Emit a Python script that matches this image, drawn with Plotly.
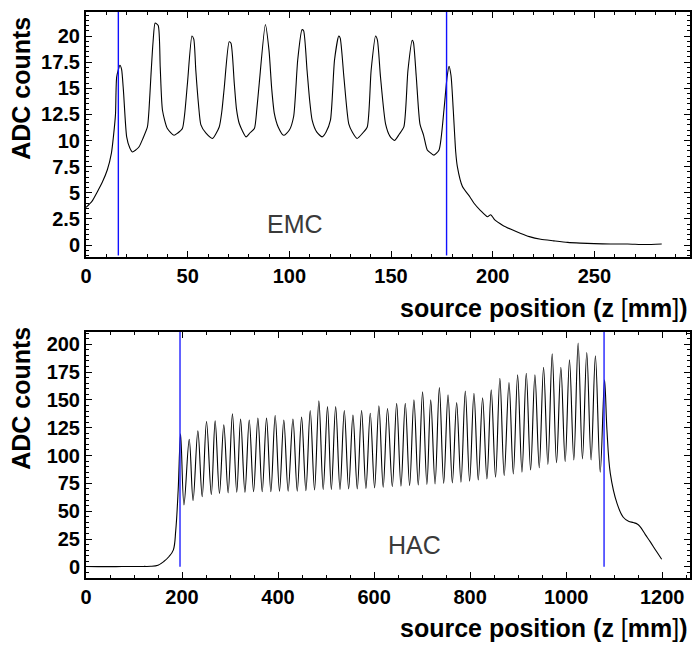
import plotly.graph_objects as go

# ---------------- EMC (top panel) ----------------
emc_z = [0, 3, 5.6, 8, 10.5, 12.5, 13.5, 14.5, 15.1, 16.7, 17.5, 18.4, 20, 21.5, 22.8, 24.5, 26.1, 28,
         30.2, 31, 31.9, 33, 34, 35.5, 36.5, 37.6, 40, 43.3, 45, 47.4, 48.5, 49.9, 52.1, 53, 54, 55.3,
         56.5, 59, 62.2, 65.5, 66.8, 68, 70.4, 71.3, 72.9, 74, 75.4, 78.7, 80.5, 82.8, 84, 85.2, 88.2,
         90, 91.3, 92.6, 94.5, 97.2, 100, 102.1, 104.1, 106.2, 107, 108.7, 110, 111.2, 113.5, 116.1,
         118, 120.2, 122.2, 124.3, 125, 126.8, 129.2, 131, 133.3, 136, 138.3, 140.2, 142.4, 143.3,
         144.8, 147.3, 149.5, 151.7, 154, 156.3, 158.3, 160.4, 161, 162.4, 164.2, 166, 167.8, 169.5,
         171.1, 173.6, 176, 177.5, 178.5, 179.5, 180.6, 181.8, 182.6, 185.1, 188.8, 190.8, 194, 197.4,
         199, 201, 204.8, 209, 213.8, 218, 223.6, 230, 236.8, 243, 249.9, 258, 266.3, 275, 283.1]
emc_adc = [3.6, 4.2, 5.1, 6.0, 7.2, 8.8, 10.4, 12.5, 16.1, 17.2, 16.8, 14.8, 10.35, 9.3, 8.9, 9.1, 9.4, 10.2,
           11.3, 13.0, 16.1, 19.5, 21.25, 21.0, 17.0, 12.9, 11.15, 10.5, 10.7, 11.15, 12.5, 15.5, 20.0, 19.7, 16.7, 13.5,
           11.5, 10.7, 10.2, 11.3, 12.8, 15.1, 19.45, 19.3, 15.5, 13.0, 11.6, 10.35, 10.7, 11.15, 13.0, 15.5, 21.1,
           18.6, 15.0, 12.6, 11.3, 10.5, 11.0, 12.3, 17.7, 20.6, 20.5, 16.7, 13.8, 11.95, 10.8, 10.35,
           10.8, 11.95, 17.7, 20.0, 19.8, 16.1, 11.6, 10.8, 10.2, 10.7, 11.3, 16.7, 20.0, 19.6,
           16.1, 11.6, 10.4, 10.0, 10.6, 11.3, 16.7, 19.6, 19.4, 16.1, 11.6, 10.5, 9.1, 8.8,
           8.6, 9.1, 12.9, 16.0, 17.1, 16.2, 12.9, 8.9, 7.5, 5.6, 4.6, 4.0, 3.3, 2.7,
           2.9, 2.4, 1.9, 1.5, 1.1, 0.8, 0.55, 0.4, 0.25, 0.18, 0.13, 0.1, 0.1, 0.05, 0.1]
emc_edges = [15.9, 177.3]

# ---------------- HAC (bottom panel) ----------------
hac_rise_z = [0, 25, 50, 75, 100, 120, 135, 150, 162, 173, 182, 187, 192]
hac_rise_adc = [0.3, 0.2, 0.2, 0.3, 0.3, 0.4, 0.5, 1.5, 4.8, 9.3, 15.3, 33, 69]
hac_peak_z = [197, 215, 233, 251, 269, 287, 305, 322, 340, 358, 376, 394, 412, 431, 449, 467, 485,
              503, 520, 538, 556, 574, 592, 610, 628, 647, 665, 683, 701, 718, 736, 754, 772, 790,
              808, 826, 844, 862, 881, 899, 917, 935, 953, 971, 989, 1007, 1025, 1043, 1061, 1080]
hac_peak_adc = [119.5, 114.7, 122.2, 130.6, 131.2, 127.6, 137.5, 132.7, 132, 133.6, 133.6, 136, 132,
                132.7, 134.5, 140.5, 149.1, 144, 144, 140.5, 136.3, 140.5, 138, 144.7, 142.3, 147,
                147, 150, 157.2, 150, 161, 154.5, 147.6, 158, 156, 152, 159, 169.5, 165.6, 172.5,
                174, 172.5, 179.4, 191.4, 179.4, 186, 201, 192.6, 189.6, 168]
hac_valley_z = [204, 223, 242, 261, 278, 296, 314, 331, 349, 367, 385, 403, 421, 440, 458, 476, 494,
                511, 529, 547, 565, 583, 601, 619, 638, 656, 674, 692, 710, 727, 745, 763, 781, 799,
                817, 835, 853, 871, 890, 908, 926, 944, 962, 980, 998, 1016, 1034, 1052, 1071]
hac_valley_adc = [55.7, 59.6, 63, 65, 66, 66.5, 67, 67, 67.5, 67.5, 67.5, 68, 68, 68, 68.5, 69, 69.5,
                  69.5, 69.5, 70, 70, 70.5, 71, 71.5, 72, 72.5, 73, 73.5, 74, 74.5, 75, 75.5, 76, 77,
                  78, 79, 80.5, 82, 83.5, 85, 87, 89, 92, 93.5, 94.5, 96, 97, 96, 85]
hac_tail_z = [1085, 1092, 1106, 1119, 1130, 1140, 1148, 1154, 1165, 1175, 1188, 1199]
hac_tail_adc = [123, 84, 57, 44.6, 41, 39.8, 38.5, 36.2, 29, 22.7, 14, 6.9]
hac_edges = [195.8, 1079]

# assemble the HAC trace from the read-off points
hac_z = list(hac_rise_z)
hac_adc = list(hac_rise_adc)
for i in range(len(hac_peak_z)):
    hac_z.append(hac_peak_z[i]); hac_adc.append(hac_peak_adc[i])
    if i < len(hac_valley_z):
        hac_z.append(hac_valley_z[i]); hac_adc.append(hac_valley_adc[i])
hac_z += hac_tail_z
hac_adc += hac_tail_adc

FAM = "Liberation Sans, Arial, sans-serif"
TICKFONT = dict(family=FAM, size=20, color="black", weight="bold")
TITLEFONT = dict(family=FAM, size=25, color="black")

fig = go.Figure()
fig.add_trace(go.Scatter(x=emc_z, y=emc_adc, mode="lines",
                         line=dict(color="black", width=1.1, shape="spline", smoothing=0.6),
                         xaxis="x", yaxis="y", showlegend=False, hoverinfo="skip"))
fig.add_trace(go.Scatter(x=hac_z, y=hac_adc, mode="lines",
                         line=dict(color="black", width=1.1, shape="spline", smoothing=1.0),
                         xaxis="x2", yaxis="y2", showlegend=False, hoverinfo="skip"))

for z in emc_edges:
    fig.add_trace(go.Scatter(x=[z, z], y=[-1.0, 22.3], mode="lines", line=dict(color="#1010ff", width=1.4),
                             xaxis="x", yaxis="y", showlegend=False, hoverinfo="skip"))
for z in hac_edges:
    fig.add_trace(go.Scatter(x=[z, z], y=[0, 211], mode="lines", line=dict(color="#2020ff", width=1.4),
                             xaxis="x2", yaxis="y2", showlegend=False, hoverinfo="skip"))

def ax(rng, dtick, minor, domain=None, anchor=None):
    d = dict(range=rng, dtick=dtick, tick0=0, ticks="inside", ticklen=6, tickwidth=1.2,
             tickcolor="black", showline=True, linewidth=2, linecolor="black", mirror="allticks",
             showgrid=False, zeroline=False, tickfont=TICKFONT, automargin=False,
             minor=dict(dtick=minor, ticks="inside", ticklen=3, tickcolor="black", tickwidth=1, showgrid=False))
    if domain is not None:
        d["domain"] = domain
    if anchor is not None:
        d["anchor"] = anchor
    return d

fig.update_layout(
    width=696, height=646,
    margin=dict(l=86, r=6, t=12, b=68, autoexpand=False),
    paper_bgcolor="white", plot_bgcolor="white",
    xaxis=ax([0, 297], 50, 10, anchor="y"),
    yaxis=ax([-1.15, 22.3], 2.5, 0.5, domain=[0.5671, 1.0], anchor="x"),
    xaxis2=ax([0, 1258], 200, 50, anchor="y2"),
    yaxis2=ax([-10, 211], 25, 5, domain=[0.0, 0.4346], anchor="x2"),
)

norm = "<span style='font-weight:normal'>"
xtitle = "source position (z " + norm + "[</span>mm" + norm + "]</span>)"
annos = [
    dict(text="<b>" + xtitle + "</b>", x=1.0, y=0.477, xref="paper", yref="paper",
         xanchor="right", yanchor="middle", showarrow=False, font=TITLEFONT),
    dict(text="<b>" + xtitle + "</b>", x=1.0, y=-0.088, xref="paper", yref="paper",
         xanchor="right", yanchor="middle", showarrow=False, font=TITLEFONT),
    dict(text="<b>ADC counts</b>", x=-0.108, y=0.8657, xref="paper", yref="paper",
         xanchor="center", yanchor="middle", textangle=-90, showarrow=False, font=TITLEFONT),
    dict(text="<b>ADC counts</b>", x=-0.108, y=0.318, xref="paper", yref="paper",
         xanchor="center", yanchor="middle", textangle=-90, showarrow=False, font=TITLEFONT),
    dict(text="EMC", x=103, y=2.0, xref="x", yref="y", showarrow=False,
         font=dict(family=FAM, size=25, color="#3a3a3a")),
    dict(text="HAC", x=685, y=19.8, xref="x2", yref="y2", showarrow=False,
         font=dict(family=FAM, size=25, color="#3a3a3a")),
]
fig.update_layout(annotations=annos)

fig.write_html("out.html", config={"displayModeBar": False},
               post_script="document.body.style.margin='0';document.body.style.overflow='hidden';")
